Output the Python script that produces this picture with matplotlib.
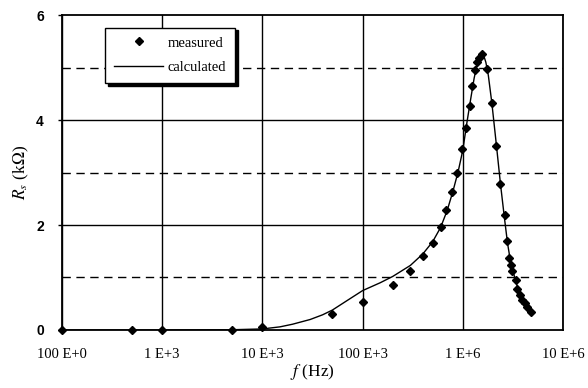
import numpy as np
import matplotlib.pyplot as plt
from matplotlib.lines import Line2D

plt.rcParams['mathtext.fontset'] = 'stix'

# measured series resistance vs frequency
f_meas = np.array([100, 500, 1e3, 5e3, 1e4, 5e4, 1e5, 2e5, 3e5, 4e5, 5e5, 6e5,
                   6.8e5, 7.9e5, 8.85e5, 9.8e5, 1.07e6, 1.18e6, 1.24e6, 1.34e6,
                   1.40e6, 1.46e6, 1.55e6, 1.76e6, 1.95e6, 2.17e6, 2.38e6, 2.64e6,
                   2.75e6, 2.90e6, 3.01e6, 3.13e6, 3.38e6, 3.51e6, 3.71e6, 3.93e6,
                   4.16e6, 4.41e6, 4.76e6])
r_meas = np.array([0.0, 0.0, 0.0, 0.0, 0.05, 0.30, 0.53, 0.85, 1.12, 1.40, 1.66, 1.97,
                   2.29, 2.63, 3.00, 3.45, 3.85, 4.27, 4.65, 4.95,
                   5.11, 5.18, 5.25, 4.97, 4.33, 3.51, 2.78, 2.19,
                   1.70, 1.38, 1.24, 1.12, 0.95, 0.78, 0.67, 0.58,
                   0.51, 0.43, 0.35])

# calculated model curve
f_calc = np.array([100, 1e3, 5e3, 1e4, 1.5e4, 2e4, 3e4, 4e4, 5e4, 7e4, 1e5, 1.5e5,
                   2e5, 3e5, 4e5, 5e5, 6e5, 7e5, 8e5, 9e5, 1e6, 1.1e6, 1.2e6,
                   1.3e6, 1.4e6, 1.5e6, 1.6e6, 1.7e6, 1.8e6, 1.95e6, 2.17e6,
                   2.38e6, 2.6e6, 2.8e6, 3.0e6, 3.3e6, 3.6e6, 4.0e6, 4.4e6, 4.8e6])
r_calc = np.array([0.0, 0.0, 0.005, 0.02, 0.06, 0.11, 0.20, 0.29, 0.38, 0.56, 0.75, 0.90,
                   1.02, 1.23, 1.45, 1.68, 1.95, 2.28, 2.65, 3.02, 3.42, 3.95, 4.40,
                   4.80, 5.08, 5.24, 5.26, 5.10, 4.85, 4.33, 3.51,
                   2.78, 2.15, 1.65, 1.30, 1.00, 0.75, 0.56, 0.44, 0.35])

xticks = [1e2, 1e3, 1e4, 1e5, 1e6, 1e7]
xticklabels = ['100 E+0', '1 E+3', '10 E+3', '100 E+3', '1 E+6', '10 E+6']

serif = 'Liberation Serif'

fig = plt.figure(figsize=(5.88, 3.88), dpi=100)
ax = fig.add_axes([0.1054, 0.1495, 0.852, 0.8118])

ax.set_xscale('log')
ax.set_xlim(1e2, 1e7)
ax.set_ylim(0, 6)

# grid: solid at decades / even values, dashed at odd values
for x in xticks:
    ax.axvline(x, color='black', lw=1.0, zorder=1)
for y in [2, 4]:
    ax.axhline(y, color='black', lw=1.0, zorder=1)
for y in [1, 3, 5]:
    ax.axhline(y, color='black', lw=1.0, ls=(0, (6, 4)), zorder=1)

ax.plot(f_calc, r_calc, color='black', lw=1.0, zorder=3)
ax.plot(f_meas, r_meas, 'D', color='black', ms=4.3, zorder=4, clip_on=False)

ax.set_xticks(xticks)
ax.set_xticklabels(xticklabels, family=serif, fontsize=10.5)
ax.xaxis.set_minor_locator(plt.NullLocator())
ax.set_yticks([0, 2, 4, 6])
ax.set_yticklabels(['0', '2', '4', '6'], family='Liberation Sans', fontweight='bold', fontsize=10)
ax.tick_params(axis='x', length=0, pad=13)
ax.tick_params(axis='y', length=3, width=1, pad=10)

for s in ax.spines.values():
    s.set_linewidth(1.3)

ax.set_xlabel(r'$\mathit{f}$ (Hz)', family=serif, fontsize=12.5, labelpad=1)
ax.set_ylabel(r'$R_s$ (k$\Omega$)', family=serif, fontsize=12.5, labelpad=4)

# legend with drop shadow
handles = [Line2D([], [], marker='D', color='black', ls='none', ms=4.3),
           Line2D([], [], color='black', lw=1.0)]
leg = ax.legend(handles, ['measured', 'calculated'], loc='upper left',
                bbox_to_anchor=(0.086, 0.96), borderaxespad=0,
                prop={'family': serif, 'size': 10.5},
                frameon=True, fancybox=False, shadow={'color': 'black', 'alpha': 1.0},
                edgecolor='black', framealpha=1.0, handlelength=3.4,
                borderpad=0.6, labelspacing=0.8, handletextpad=0.3)
leg.get_frame().set_linewidth(1.0)

fig.savefig('out.png', dpi=100)
